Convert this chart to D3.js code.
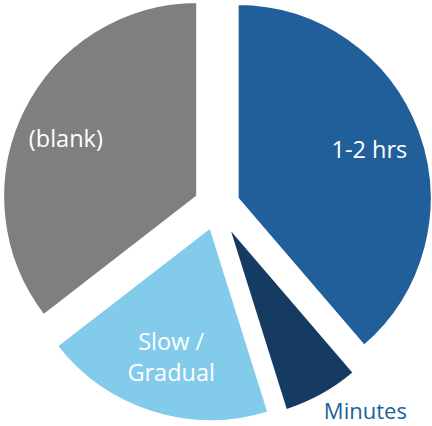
<!DOCTYPE html>
<html>
<head>
<meta charset="utf-8">
<script src="https://cdn.jsdelivr.net/npm/d3@7/dist/d3.min.js"></script>
<style>
  html, body { margin: 0; padding: 0; background: #ffffff; }
  svg { display: block; }
  text { font-family: "Open Sans", "Noto Sans", sans-serif; }
</style>
</head>
<body>
<script>
// Response-time categories and their counts
const categories = ["1-2 hrs", "Minutes", "Slow / Gradual", "(blank)"];
const counts = [12, 2, 6, 11];
const colors = ["#215F9A", "#163B63", "#83CBEB", "#7F7F7F"];

const width = 432, height = 426;
const cx = 217, cy = 206;
const radius = 195;
const explode = 21.5;

// Label placement per slice: angle nudge (radians) from the bisector and distance from the slice tip
const labelLayout = {
  "1-2 hrs":        { nudge: 0,     r: 141, inside: true },
  "Minutes":        { nudge: -0.13, r: 232, inside: false },
  "Slow / Gradual": { nudge: -0.01, r: 136, inside: true },
  "(blank)":        { nudge: -0.042, r: 144, inside: true }
};

const svg = d3.select("body").append("svg")
  .attr("width", width)
  .attr("height", height);

const pie = d3.pie().sort(null).value(d => d.value);
const arcs = pie(categories.map((c, i) => ({ name: c, value: counts[i], color: colors[i] })));

const arc = d3.arc().innerRadius(0).outerRadius(radius);

// Unit vector for an angle measured clockwise from 12 o'clock
const dir = a => [Math.sin(a), -Math.cos(a)];
const mid = d => (d.startAngle + d.endAngle) / 2;

const g = svg.append("g").attr("transform", `translate(${cx},${cy})`);

const slice = g.selectAll("g.slice")
  .data(arcs)
  .join("g")
  .attr("class", "slice")
  .attr("transform", d => {
    const [ux, uy] = dir(mid(d));
    return `translate(${ux * explode},${uy * explode})`;
  });

slice.append("path")
  .attr("d", arc)
  .attr("fill", d => d.data.color)
  .attr("stroke", "#ffffff")
  .attr("stroke-width", 3)
  .attr("stroke-linejoin", "miter");

const lineH = 31;
slice.append("text")
  .attr("fill", d => labelLayout[d.data.name].inside ? "#ffffff" : "#215F9A")
  .attr("font-size", d => labelLayout[d.data.name].inside ? 23.5 : 22)
  .attr("text-anchor", "middle")
  .each(function (d) {
    const L = labelLayout[d.data.name];
    const [ux, uy] = dir(mid(d) + L.nudge);
    const x = ux * L.r, y = uy * L.r;
    const lines = d.data.name === "Slow / Gradual" ? ["Slow /", "Gradual"] : [d.data.name];
    const t = d3.select(this);
    lines.forEach((ln, i) => {
      t.append("tspan")
        .attr("x", x)
        .attr("y", y + (i - (lines.length - 1) / 2) * lineH)
        .attr("dy", "0.36em")
        .text(ln);
    });
  });
</script>
</body>
</html>
